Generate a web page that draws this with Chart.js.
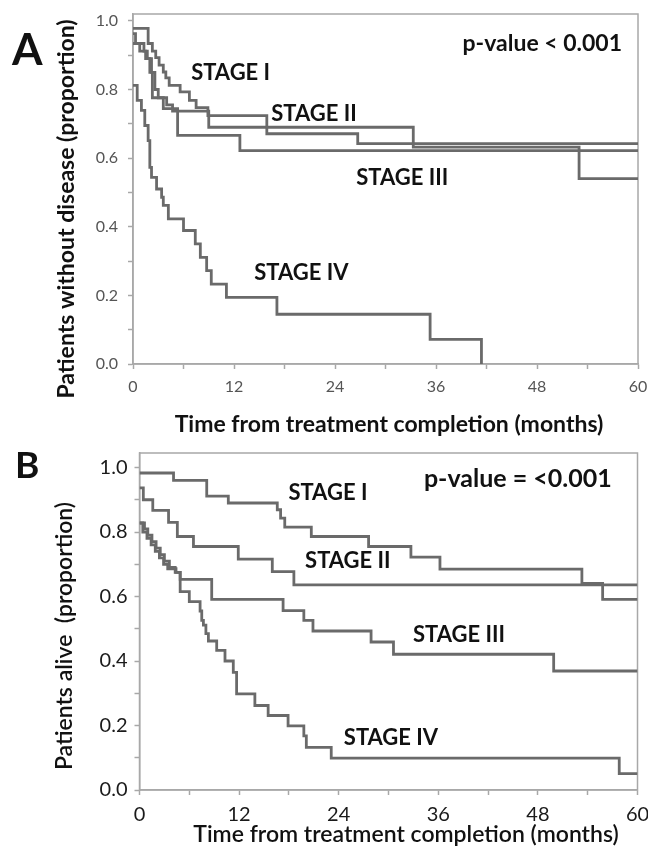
<!DOCTYPE html>
<html>
<head>
<meta charset="utf-8">
<script src="https://cdn.jsdelivr.net/npm/chart.js@4.4.1/dist/chart.umd.min.js"></script>
<style>
  html, body { margin: 0; padding: 0; background: #fff; }
  #wrap { position: relative; width: 648px; height: 850px; }
  .panel { position: absolute; left: 0; width: 648px; }
  #panelA { top: 0; height: 445px; }
  #panelB { top: 445px; height: 405px; }
</style>
</head>
<body>
<div id="wrap">
  <div class="panel" id="panelA"><canvas id="chartA"></canvas></div>
  <div class="panel" id="panelB"><canvas id="chartB"></canvas></div>
</div>
<script>
// ---- data (months, proportion) ----
const stageNames = ['STAGE I', 'STAGE II', 'STAGE III', 'STAGE IV'];
const xTickLabels = [0, 12, 24, 36, 48, 60];
const yTickLabels = [0.0, 0.2, 0.4, 0.6, 0.8, 1.0];

// A: patients without disease
const aStage1Time = [0, 1.8, 2.3, 2.7, 3.1, 3.6, 3.9, 4.3, 5.6, 6.7, 7.5, 8.9, 15.9, 26.7, 60];
const aStage1Surv = [0.978, 0.934, 0.912, 0.893, 0.871, 0.851, 0.834, 0.812, 0.793, 0.768, 0.747, 0.724, 0.671, 0.642, 0.642];
const aStage2Time = [0, 0.3, 1.3, 1.7, 2.2, 2.6, 3.0, 4.0, 4.7, 9.0, 33.3, 53.0, 60];
const aStage2Surv = [0.963, 0.934, 0.912, 0.89, 0.85, 0.80, 0.776, 0.755, 0.737, 0.69, 0.632, 0.54, 0.54];
const aStage3Time = [0, 0.8, 1.5, 2.0, 2.3, 3.6, 5.3, 12.7, 60];
const aStage3Surv = [0.934, 0.912, 0.89, 0.85, 0.776, 0.744, 0.666, 0.622, 0.622];
const aStage4Time = [0, 0.5, 1.0, 1.4, 1.8, 2.0, 2.2, 2.8, 3.4, 3.6, 4.2, 6.0, 7.4, 8.0, 8.75, 9.3, 11.1, 17.1, 35.3, 41.4];
const aStage4Surv = [0.812, 0.768, 0.739, 0.695, 0.651, 0.573, 0.544, 0.510, 0.486, 0.462, 0.423, 0.389, 0.350, 0.311, 0.272, 0.233, 0.194, 0.145, 0.072, 0.0];

// B: patients alive
const bStage1Time = [0, 4.1, 8.1, 10.7, 16.6, 17.0, 17.5, 20.7, 27.6, 32.7, 36.2, 53.3, 55.8, 60];
const bStage1Surv = [0.983, 0.960, 0.911, 0.890, 0.869, 0.843, 0.815, 0.786, 0.755, 0.722, 0.685, 0.641, 0.591, 0.591];
const bStage2Time = [0, 0.46, 1.6, 3.5, 4.56, 6.5, 11.9, 16.0, 18.6, 60];
const bStage2Surv = [0.937, 0.900, 0.867, 0.830, 0.786, 0.755, 0.716, 0.677, 0.636, 0.636];
const bStage3Time = [0, 0.6, 1.0, 1.5, 2.0, 2.5, 3.0, 3.6, 4.3, 4.9, 8.7, 17.3, 19.8, 20.9, 27.9, 30.6, 49.9, 60];
const bStage3Surv = [0.828, 0.81, 0.79, 0.77, 0.75, 0.73, 0.71, 0.69, 0.675, 0.653, 0.591, 0.556, 0.526, 0.493, 0.459, 0.421, 0.369, 0.369];
const bStage4Time = [0, 0.4, 0.9, 1.4, 1.9, 2.4, 2.9, 3.4, 4.4, 4.9, 6.0, 7.3, 7.5, 7.7, 8.0, 8.3, 9.3, 10.3, 11.3, 11.7, 13.9, 15.5, 17.9, 19.8, 20.1, 23.1, 57.8, 60];
const bStage4Surv = [0.828, 0.80, 0.78, 0.76, 0.74, 0.72, 0.70, 0.686, 0.675, 0.615, 0.584, 0.555, 0.526, 0.511, 0.485, 0.462, 0.433, 0.400, 0.365, 0.298, 0.262, 0.231, 0.199, 0.168, 0.132, 0.099, 0.051, 0.051];

const LINE = '#6a6a6a';
const FRAME = '#a8a8a8';

function toPoints(times, surv) {
    return times.map((t, i) => ({ x: t, y: surv[i] }));
}

// frame around the plot + free text (titles, stage labels, p-value)
function overlay(items) {
    return {
        id: 'overlay',
        beforeDatasetsDraw(chart) {
            const { ctx, chartArea: a } = chart;
            ctx.save();
            ctx.strokeStyle = FRAME;
            ctx.lineWidth = 1.5;
            ctx.strokeRect(a.left, a.top, a.right - a.left, a.bottom - a.top);
            ctx.restore();
        },
        afterDraw(chart) {
            const { ctx, scales } = chart;
            items.forEach(it => {
                let x = it.px, y = it.py;
                if (it.at) {
                    x = scales.x.getPixelForValue(it.at[0]);
                    y = scales.y.getPixelForValue(it.at[1]);
                }
                ctx.save();
                ctx.font = it.font;
                ctx.fillStyle = it.color || '#111';
                ctx.textAlign = it.align || 'center';
                ctx.textBaseline = it.baseline || 'alphabetic';
                ctx.translate(x, y);
                if (it.rotate) ctx.rotate(it.rotate);
                ctx.fillText(it.text, 0, 0);
                ctx.restore();
            });
        }
    };
}

function kmChart(canvasId, series, o) {
    const ctx = document.getElementById(canvasId).getContext('2d');
    return new Chart(ctx, {
        type: 'line',
        data: {
            datasets: series.map((pts, i) => ({
                label: stageNames[i],
                data: pts,
                stepped: 'before',
                borderColor: LINE,
                borderWidth: 2.8,
                pointRadius: 0,
                fill: false
            }))
        },
        options: {
            responsive: true,
            maintainAspectRatio: false,
            animation: false,
            layout: { padding: o.padding },
            plugins: { legend: { display: false }, tooltip: { enabled: false } },
            scales: {
                x: {
                    type: 'linear', min: 0, max: 60,
                    ticks: {
                        stepSize: 6, includeBounds: false, autoSkip: false, maxRotation: 0,
                        padding: o.xTickPad, color: o.tickColor, font: o.tickFont,
                        callback: v => xTickLabels.includes(v) ? String(v) : ''
                    },
                    grid: { drawOnChartArea: false, tickLength: 5, tickColor: FRAME, tickWidth: 1.5 },
                    border: { color: FRAME, width: 1.5 },
                    afterFit: s => { s.height = o.xHeight; s.paddingLeft = 0; s.paddingRight = 0; }
                },
                y: {
                    type: 'linear', min: 0, max: o.yMax,
                    ticks: {
                        stepSize: 0.1, includeBounds: false, autoSkip: false,
                        padding: o.yTickPad, color: o.tickColor, font: o.tickFont,
                        callback: v => yTickLabels.some(t => Math.abs(t - v) < 1e-6) ? v.toFixed(1) : ''
                    },
                    grid: { drawOnChartArea: false, tickLength: 5, tickColor: FRAME, tickWidth: 1.5 },
                    border: { color: FRAME, width: 1.5 },
                    afterFit: s => { s.width = o.yWidth; s.paddingTop = 0; s.paddingBottom = 0; }
                }
            }
        },
        plugins: [overlay(o.items)]
    });
}

const labelFont = 'bold 22px Lato';

kmChart('chartA',
    [toPoints(aStage1Time, aStage1Surv), toPoints(aStage2Time, aStage2Surv),
     toPoints(aStage3Time, aStage3Surv), toPoints(aStage4Time, aStage4Surv)],
    {
        padding: { top: 14, right: 10, bottom: 0, left: 0 },
        yMax: 1.02, yWidth: 133, xHeight: 81, xTickPad: 8, yTickPad: 10,
        tickColor: '#555', tickFont: { family: 'Lato', size: 16 },
        items: [
            { text: 'A', px: 12, py: 65, font: 'bold 44px Lato', align: 'left' },
            { text: 'Patients without disease (proportion)', px: 67, py: 209, font: 'bold 23px Lato', rotate: -Math.PI / 2, baseline: 'middle' },
            { text: 'Time from treatment completion (months)', px: 389, py: 432, font: 'bold 23px Lato' },
            { text: 'p-value < 0.001', at: [58.1, 0.913], font: 'bold 23px Lato', align: 'right' },
            { text: stageNames[0], at: [11.6, 0.827], font: labelFont },
            { text: stageNames[1], at: [21.5, 0.709], font: labelFont },
            { text: stageNames[2], at: [32.0, 0.521], font: labelFont },
            { text: stageNames[3], at: [20.0, 0.245], font: labelFont }
        ]
    });

kmChart('chartB',
    [toPoints(bStage1Time, bStage1Surv), toPoints(bStage2Time, bStage2Surv),
     toPoints(bStage3Time, bStage3Surv), toPoints(bStage4Time, bStage4Surv)],
    {
        padding: { top: 8, right: 10.5, bottom: 0, left: 0 },
        yMax: 1.045, yWidth: 139.5, xHeight: 60, xTickPad: 8, yTickPad: 7,
        tickColor: '#1a1a1a', tickFont: { family: 'Lato', size: 20 },
        items: [
            { text: 'B', px: 15, py: 33, font: 'bold 37px Lato', align: 'left' },
            { text: 'Patients alive  (proportion)', px: 65, py: 191, font: '600 23px Lato', rotate: -Math.PI / 2, baseline: 'middle' },
            { text: 'Time from treatment completion (months)', px: 406, py: 397, font: '600 23px Lato' },
            { text: 'p-value = <0.001', at: [56.9, 0.940], font: 'bold 25px Lato', align: 'right' },
            { text: stageNames[0], at: [22.7, 0.900], font: labelFont },
            { text: stageNames[1], at: [25.1, 0.689], font: labelFont },
            { text: stageNames[2], at: [38.5, 0.460], font: labelFont },
            { text: stageNames[3], at: [30.3, 0.140], font: labelFont }
        ]
    });
</script>
</body>
</html>
